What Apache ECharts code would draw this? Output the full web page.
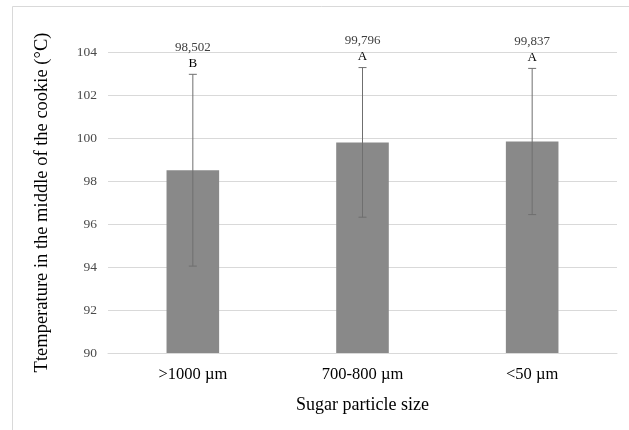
<!DOCTYPE html>
<html>
<head>
<meta charset="utf-8">
<script src="https://cdn.jsdelivr.net/npm/echarts@6/dist/echarts.min.js"></script>
<style>
  html, body { margin: 0; padding: 0; background: #ffffff; }
  #chart { width: 629px; height: 430px; }
</style>
</head>
<body>
<div id="chart"></div>
<script>
// Mean temperature at the cookie centre per sugar particle size, with SD and grouping letters
const categories = ['>1000 µm', '700-800 µm', '<50 µm'];
const meanTemps = [98.502, 99.796, 99.837];
const stdDevs = [4.46, 3.48, 3.40];
const groupLetters = ['B', 'A', 'A'];
const valueLabels = ['98,502', '99,796', '99,837'];
const yTicks = [90, 92, 94, 96, 98, 100, 102, 104];

const serif = '"Liberation Serif", "Times New Roman", serif';

const chart = echarts.init(document.getElementById('chart'), null, { renderer: 'canvas' });

const errorData = categories.map((c, i) => [i, meanTemps[i] - stdDevs[i], meanTemps[i] + stdDevs[i]]);

chart.setOption({
  backgroundColor: '#ffffff',
  animation: false,
  graphic: [{
    type: 'rect',
    shape: { x: 12.5, y: 6.5, width: 640, height: 450 },
    style: { fill: 'none', stroke: '#d9d9d9', lineWidth: 1 },
    silent: true
  }],
  grid: { left: 108, right: 12, top: 52, bottom: 77 },
  xAxis: {
    type: 'category',
    data: categories,
    name: 'Sugar particle size',
    nameLocation: 'middle',
    nameGap: 43,
    nameTextStyle: { fontFamily: serif, fontSize: 18, color: '#000000' },
    axisLine: { show: true, lineStyle: { color: '#d9d9d9' } },
    axisTick: { show: false },
    axisLabel: { fontFamily: serif, fontSize: 16.5, color: '#000000', margin: 13 }
  },
  yAxis: {
    type: 'value',
    min: yTicks[0],
    max: yTicks[yTicks.length - 1],
    interval: 2,
    name: 'Ttemperature in the middle of the cookie (°C)',
    nameLocation: 'middle',
    nameGap: 56,
    nameRotate: 90,
    nameTextStyle: { fontFamily: serif, fontSize: 18.5, color: '#000000' },
    axisLine: { show: false },
    axisTick: { show: false },
    axisLabel: { fontFamily: serif, fontSize: 13.5, color: '#4a4a4a', margin: 11 },
    splitLine: { lineStyle: { color: '#d9d9d9', width: 1 } }
  },
  series: [
    {
      type: 'bar',
      data: meanTemps,
      barWidth: '31%',
      itemStyle: { color: '#898989' },
      silent: true
    },
    {
      type: 'custom',
      data: errorData,
      z: 10,
      silent: true,
      renderItem: function (params, api) {
        const x = api.value(0);
        const lo = api.coord([x, api.value(1)]);
        const hi = api.coord([x, api.value(2)]);
        const cap = 4;
        const i = params.dataIndex;
        const lineStyle = { stroke: '#6f6f6f', lineWidth: 1 };
        return {
          type: 'group',
          children: [
            { type: 'line', shape: { x1: hi[0], y1: hi[1], x2: lo[0], y2: lo[1] }, style: lineStyle },
            { type: 'line', shape: { x1: hi[0] - cap, y1: hi[1], x2: hi[0] + cap, y2: hi[1] }, style: lineStyle },
            { type: 'line', shape: { x1: lo[0] - cap, y1: lo[1], x2: lo[0] + cap, y2: lo[1] }, style: lineStyle },
            {
              type: 'text',
              style: {
                x: hi[0], y: hi[1] - 11, text: groupLetters[i],
                font: '13px ' + serif, fill: '#000000',
                align: 'center', verticalAlign: 'middle'
              }
            },
            {
              type: 'text',
              style: {
                x: hi[0], y: hi[1] - 27, text: valueLabels[i],
                font: '13px ' + serif, fill: '#404040',
                align: 'center', verticalAlign: 'middle'
              }
            }
          ]
        };
      }
    }
  ]
});
</script>
</body>
</html>
